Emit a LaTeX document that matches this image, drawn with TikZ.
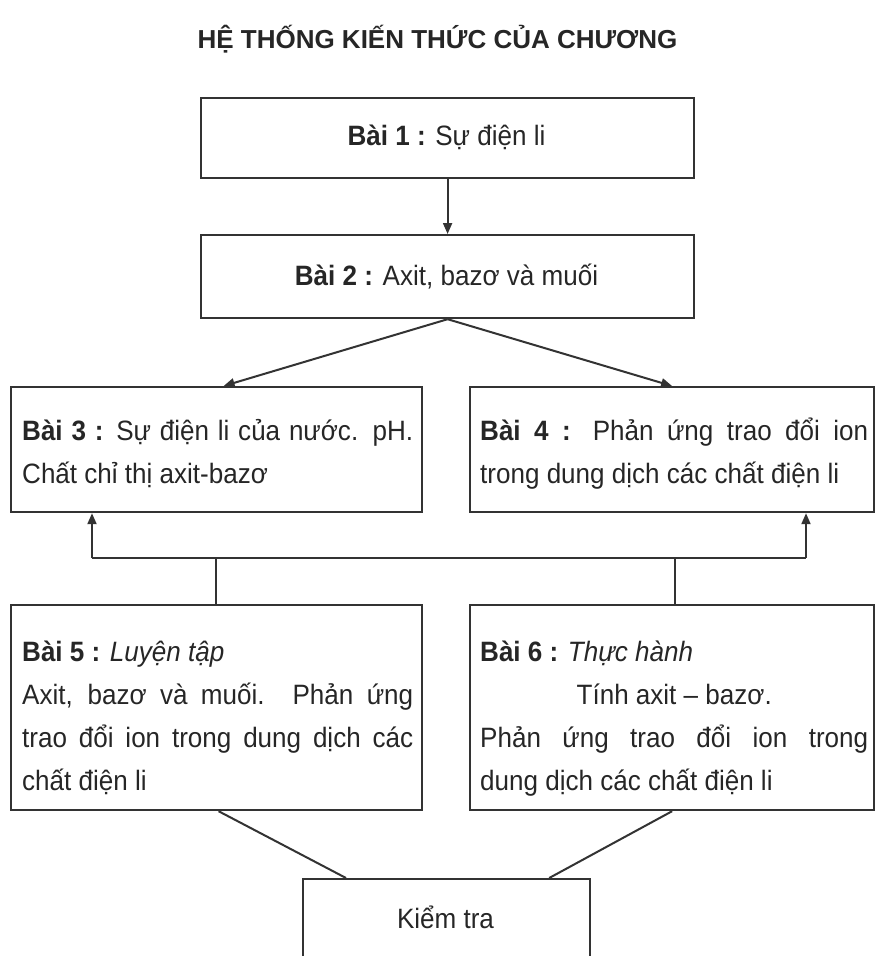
\documentclass[tikz,border=0pt]{standalone}
\usepackage{fontspec}
\setmainfont{Liberation Sans}[FakeStretch=0.93]
\newfontfamily\titlefont{Liberation Sans}
\usetikzlibrary{arrows.meta,calc}
\begin{document}
\begin{tikzpicture}[x=1pt,y=-1pt,
  box/.style={draw=black!80,line width=2.2pt,inner sep=0pt,anchor=north west},
  ln/.style={draw=black!80,line width=2pt},
  arr/.style={ln,-{Triangle[length=11pt,width=9pt]}},
  txt/.style={inner sep=0pt,text=black!85,font=\fontsize{28}{43}\selectfont},
  para/.style={txt,anchor=north west,align=justify}]
\useasboundingbox (0,0) rectangle (875,956);
% title
\node[inner sep=0pt,text=black!85,font=\titlefont\fontsize{26}{30}\selectfont\bfseries,anchor=base] (title) at (437.5,48) {HỆ THỐNG KIẾN THỨC CỦA CHƯƠNG};
% boxes
\node[box,minimum width=493pt,minimum height=80pt] (b1) at (200,97) {};
\node[box,minimum width=493pt,minimum height=83pt] (b2) at (200,234) {};
\node[box,minimum width=411pt,minimum height=125pt] (b3) at (10,386) {};
\node[box,minimum width=404pt,minimum height=125pt] (b4) at (469,386) {};
\node[box,minimum width=411pt,minimum height=205pt] (b5) at (10,604) {};
\node[box,minimum width=404pt,minimum height=205pt] (b6) at (469,604) {};
\node[box,minimum width=287pt,minimum height=82pt] (b7) at (302,878) {};
% texts
\node[txt,anchor=base] (t1) at (446.5,145) {\textbf{Bài 1 :} Sự điện li};
\node[txt,anchor=base] (t2) at (446.5,285) {\textbf{Bài 2 :} Axit, bazơ và muối};
\node[para,text width=391pt] (t3) at (22,410) {\strut\textbf{Bài 3 :} Sự điện li của nước. pH.\linebreak Chất chỉ thị axit-bazơ};
\node[para,text width=388pt] (t4) at (480,410) {\strut\textbf{Bài 4 :} Phản ứng trao đổi ion\linebreak trong dung dịch các chất điện li};
\node[para,text width=391pt] (t5) at (22,631) {\strut\textbf{Bài 5 :} \textit{Luyện tập}\\ Axit, bazơ và muối. Phản ứng\linebreak trao đổi ion trong dung dịch các\linebreak chất điện li};
\node[para,text width=388pt] (t6) at (480,631) {\strut\textbf{Bài 6 :} \textit{Thực hành}\\ \hspace*{\fill}Tính axit – bazơ.\hspace*{\fill}\linebreak Phản ứng trao đổi ion trong\linebreak dung dịch các chất điện li};
\node[txt,anchor=base] (t7) at (445.5,928) {Kiểm tra};
% connectors
\draw[arr] (b1.south) -- (b2.north);
\draw[arr] (b2.south) -- ($(b3.north)+(7,0)$);
\draw[arr] (b2.south) -- (b4.north);
\coordinate (bl) at (92,558);
\coordinate (br) at (806,558);
\coordinate (jl) at (216,558);
\coordinate (jr) at (675,558);
\draw[ln] (bl) -- (br);
\draw[arr] (bl) -- (bl |- b3.south);
\draw[arr] (br) -- (br |- b4.south);
\draw[ln] (jl) -- (jl |- b5.north);
\draw[ln] (jr) -- (jr |- b6.north);
\draw[ln] ($(b5.south)+(2,0)$) -- ($(b7.north west)+(44,0)$);
\draw[ln] (b6.south) -- ($(b7.north east)+(-42,0)$);
\end{tikzpicture}
\end{document}
